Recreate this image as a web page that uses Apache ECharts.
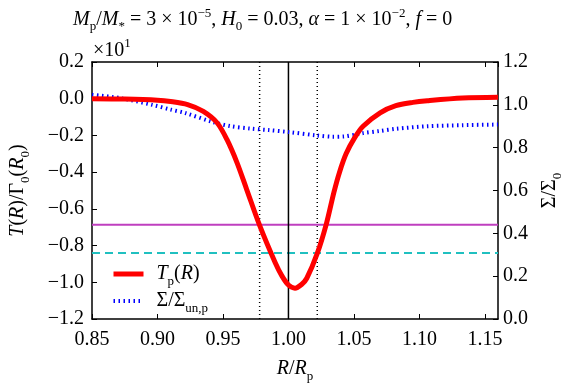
<!DOCTYPE html>
<html>
<head>
<meta charset="utf-8">
<script src="https://cdn.jsdelivr.net/npm/echarts@6/dist/echarts.min.js"></script>
<style>
  html, body { margin: 0; padding: 0; background: #fff; }
  #main { width: 572px; height: 388px; }
</style>
</head>
<body>
<div id="main"></div>
<script>
// torque profile T_p(R), in units of 10 (left axis)
var torqueR = [0.85, 0.875, 0.90, 0.910, 0.923, 0.935, 0.9455, 0.953, 0.9607, 0.968, 0.978, 0.990, 0.995, 1.000, 1.005, 1.010, 1.014, 1.022, 1.029, 1.0347, 1.039, 1.044, 1.0506, 1.057, 1.070, 1.082, 1.095, 1.106, 1.133, 1.16];
var torqueT = [0.0, -0.002, -0.008, -0.015, -0.032, -0.069, -0.131, -0.222, -0.348, -0.492, -0.69, -0.895, -0.965, -1.015, -1.032, -1.012, -0.978, -0.843, -0.68, -0.51, -0.40, -0.30, -0.212, -0.15, -0.077, -0.038, -0.02, -0.011, 0.004, 0.008];

// surface density ratio (right axis)
var sigmaR = [0.85, 0.871, 0.896, 0.910, 0.921, 0.942, 0.956, 0.971, 0.985, 1.000, 1.022, 1.034, 1.042, 1.057, 1.070, 1.082, 1.106, 1.133, 1.16];
var sigmaV = [1.047, 1.032, 1.000, 0.978, 0.962, 0.920, 0.900, 0.889, 0.882, 0.873, 0.857, 0.851, 0.852, 0.868, 0.878, 0.888, 0.900, 0.905, 0.908];

// reference levels (left axis units)
var magentaLevel = -0.686;
var cyanLevel = -0.841;
var dottedR = [0.978, 1.022];
var planetR = 1.0;

var xTicks = [0.85, 1.16, 0.05];
var yLeftTicks = [-1.2, 0.2, 0.2];
var yRightTicks = [0, 1.2, 0.2];

function zip(a, b) { return a.map(function (v, i) { return [v, b[i]]; }); }
function fmt(d) {
  return function (v) { return (v < -1e-9 ? '\u2212' : '') + Math.abs(v).toFixed(d); };
}

var FONT = 'Liberation Serif';
function st(size, lh, va, italic) {
  return { fontFamily: FONT, fontSize: size, lineHeight: lh, verticalAlign: va,
           fontStyle: italic ? 'italic' : 'normal', fontWeight: 'normal', color: '#000' };
}
var rich = {
  n: st(20, 26, 'middle'), i: st(20, 26, 'middle', true),
  s: st(13, 12, 'bottom'), u: st(13, 12, 'top'),
  N: st(20, 28, 'middle'), I: st(20, 28, 'middle', true),
  S: st(13, 13, 'bottom'), U: st(13, 13, 'top')
};

var chart = echarts.init(document.getElementById('main'), null, { renderer: 'canvas' });

var tickStyle = { show: true, inside: true, length: 5, lineStyle: { color: '#000', width: 1 } };
var lineStyleAxis = { show: true, onZero: false, lineStyle: { color: '#000', width: 1.5 } };

chart.setOption({
  animation: false,
  backgroundColor: '#fff',
  title: {
    text: '{i|M}{s|p}{n|/}{i|M}{s|*}{n| = 3 × 10}{u|\u22125}{n|, }{i|H}{s|0}{n| = 0.03, }{i|α}{n| = 1 × 10}{u|\u22122}{n|, }{i|f}{n| = 0}',
    left: 68,
    top: 2,
    textStyle: { fontWeight: 'normal', rich: rich }
  },
  graphic: [{
    type: 'text',
    left: 93,
    top: 37,
    style: { text: '{N|×10}{U|1}', rich: rich }
  }],
  legend: {
    orient: 'vertical',
    left: 106,
    top: 259,
    itemWidth: 30,
    itemHeight: 12,
    itemGap: 3,
    itemStyle: { opacity: 0 },
    data: [
      { name: 'torque', lineStyle: { width: 5 } },
      { name: 'sigma', lineStyle: { width: 4, type: [1.5, 3.5] } }
    ],
    formatter: function (name) {
      return name === 'torque' ? '{I|T}{S|p}{N|(}{I|R}{N|)}' : '{N|Σ/Σ}{S|un,p}';
    },
    textStyle: { rich: rich, padding: [0, 0, 0, 8] }
  },
  grid: { left: 91, right: 71, top: 62, bottom: 67 },
  xAxis: [{
    type: 'value',
    min: xTicks[0], max: xTicks[1], interval: xTicks[2],
    name: '{I|R}{N|/}{I|R}{S|p}',
    nameLocation: 'middle',
    nameGap: 36,
    nameTextStyle: { rich: rich },
    axisLine: lineStyleAxis,
    axisTick: tickStyle,
    splitLine: { show: false },
    axisLabel: { formatter: fmt(2), showMaxLabel: false, margin: 11, fontFamily: FONT, fontSize: 20, color: '#000' }
  }, {
    type: 'value',
    position: 'top',
    min: xTicks[0], max: xTicks[1], interval: xTicks[2],
    axisLine: lineStyleAxis,
    axisTick: tickStyle,
    splitLine: { show: false },
    axisLabel: { show: false }
  }],
  yAxis: [{
    type: 'value',
    position: 'left',
    min: yLeftTicks[0], max: yLeftTicks[1], interval: yLeftTicks[2],
    name: '{I|T}{N|(}{I|R}{N|)/Γ}{S|0}{N|(}{I|R}{S|0}{N|)}',
    nameLocation: 'middle',
    nameGap: 60,
    nameRotate: 90,
    nameTextStyle: { rich: rich },
    axisLine: lineStyleAxis,
    axisTick: tickStyle,
    splitLine: { show: false },
    axisLabel: { formatter: fmt(1), margin: 8, fontFamily: FONT, fontSize: 20, color: '#000' }
  }, {
    type: 'value',
    position: 'right',
    min: yRightTicks[0], max: yRightTicks[1], interval: yRightTicks[2],
    name: '{N|Σ/Σ}{S|0}',
    nameLocation: 'middle',
    nameGap: 38,
    nameRotate: 90,
    nameTextStyle: { rich: rich },
    axisLine: lineStyleAxis,
    axisTick: tickStyle,
    splitLine: { show: false },
    axisLabel: { formatter: fmt(1), margin: 5, fontFamily: FONT, fontSize: 20, color: '#000' }
  }],
  series: [{
    name: 'magenta',
    type: 'line',
    symbol: 'none',
    data: [[xTicks[0], magentaLevel], [xTicks[1], magentaLevel]],
    lineStyle: { color: '#bf3fbf', width: 2 },
    z: 2
  }, {
    name: 'cyan',
    type: 'line',
    symbol: 'none',
    data: [[xTicks[0], cyanLevel], [xTicks[1], cyanLevel]],
    lineStyle: { color: '#20c0c0', width: 2, type: [8, 5] },
    z: 2
  }, {
    name: 'dot1',
    type: 'line',
    symbol: 'none',
    data: [[dottedR[0], yLeftTicks[0]], [dottedR[0], yLeftTicks[1]]],
    lineStyle: { color: '#000', width: 1.5, type: [1, 3] },
    z: 2
  }, {
    name: 'dot2',
    type: 'line',
    symbol: 'none',
    data: [[dottedR[1], yLeftTicks[0]], [dottedR[1], yLeftTicks[1]]],
    lineStyle: { color: '#000', width: 1.5, type: [1, 3] },
    z: 2
  }, {
    name: 'planet',
    type: 'line',
    symbol: 'none',
    data: [[planetR, yLeftTicks[0]], [planetR, yLeftTicks[1]]],
    lineStyle: { color: '#000', width: 1.5 },
    z: 2
  }, {
    name: 'torque',
    type: 'line',
    symbol: 'none',
    smooth: 0.3,
    data: zip(torqueR, torqueT),
    lineStyle: { color: '#ff0000', width: 5 },
    itemStyle: { color: '#ff0000' },
    z: 4
  }, {
    name: 'sigma',
    type: 'line',
    yAxisIndex: 1,
    symbol: 'none',
    smooth: 0.3,
    data: zip(sigmaR, sigmaV),
    lineStyle: { color: '#0000ff', width: 4, type: [1.5, 3.5], cap: 'butt' },
    itemStyle: { color: '#0000ff' },
    z: 3
  }]
});
</script>
</body>
</html>
